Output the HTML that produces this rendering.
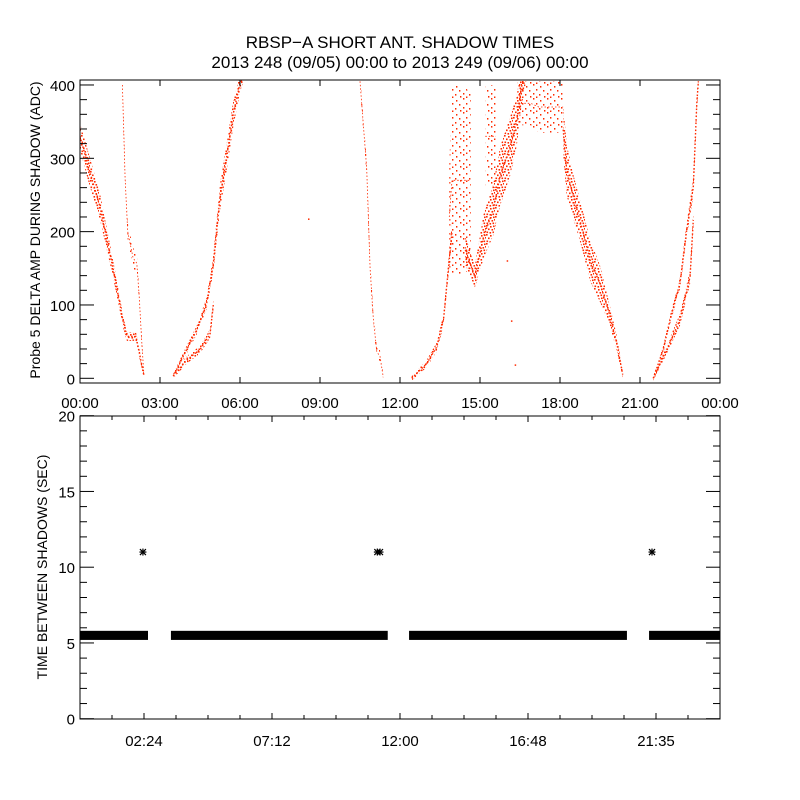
<!DOCTYPE html>
<html><head><meta charset="utf-8"><style>
body{margin:0;background:#fff;}
svg{display:block;font-family:"Liberation Sans",sans-serif;}
text{fill:#000;}
</style></head><body>
<svg id="chart" width="800" height="800" viewBox="0 0 800 800">
<defs>
<pattern id="dense" width="9" height="9" patternUnits="userSpaceOnUse">
<rect x="0" y="0" width="1.6" height="1.6" fill="#ff2a00"/><rect x="4" y="1" width="1.6" height="1.6" fill="#ff2a00"/><rect x="7" y="0.5" width="1.6" height="1.6" fill="#ff2a00"/>
<rect x="2" y="3.5" width="1.6" height="1.6" fill="#ff2a00"/><rect x="5.5" y="4" width="1.6" height="1.6" fill="#ff2a00"/><rect x="8" y="3" width="1" height="1.6" fill="#ff2a00"/>
<rect x="0.5" y="6.5" width="1.6" height="1.6" fill="#ff2a00"/><rect x="3.5" y="7" width="1.6" height="1.6" fill="#ff2a00"/><rect x="6.5" y="6.5" width="1.6" height="1.6" fill="#ff2a00"/>
</pattern>
<pattern id="sparse" width="14" height="14" patternUnits="userSpaceOnUse">
<rect x="1" y="0" width="1.4" height="1.6" fill="#ff2a00"/><rect x="8" y="2" width="1.4" height="1.6" fill="#ff2a00"/><rect x="4" y="5" width="1.4" height="1.6" fill="#ff2a00"/>
<rect x="11" y="6" width="1.4" height="1.6" fill="#ff2a00"/><rect x="1" y="9" width="1.4" height="1.6" fill="#ff2a00"/><rect x="7" y="10" width="1.4" height="1.6" fill="#ff2a00"/>
<rect x="12" y="12" width="1.4" height="1.6" fill="#ff2a00"/><rect x="4" y="12.5" width="1.4" height="1.6" fill="#ff2a00"/>
</pattern>
<clipPath id="clipTop"><rect x="80" y="80" width="640" height="303"/></clipPath>
</defs>
<rect width="800" height="800" fill="#fff"/>
<text x="400" y="48" font-size="17" text-anchor="middle">RBSP−A SHORT ANT. SHADOW TIMES</text>
<text x="400" y="68" font-size="17" text-anchor="middle">2013 248 (09/05) 00:00 to 2013 249 (09/06) 00:00</text>
<g id="topPanel"></g>
<g id="botPanel"></g>
<text transform="translate(40,230) rotate(-90)" font-size="14" text-anchor="middle">Probe 5 DELTA AMP DURING SHADOW (ADC)</text>
<text transform="translate(47,567) rotate(-90)" font-size="14" text-anchor="middle">TIME BETWEEN SHADOWS (SEC)</text>
</svg>
<script>
// ---- top panel data (hours, ADC value, vertical spread) ----
const trackNames = ["desc-a","desc-b","rise-c-low","rise-c-up","desc-d","rise-e","col-e","v-trough","col-sparse","peak","desc-f","rise-g-low","rise-g-up"];
const trackDensity = ["dense","sparse","dense","dense","sparse","dense","sparse","dense","sparse","sparse","dense","dense","dense"];
const trackHours = [
 [0,0.3,0.75,1.25,1.63,1.76,2.1,2.25,2.4],
 [1.59,1.69,1.79,1.99,2.13,2.22,2.31,2.4],
 [3.5,4.0,4.5,4.88,5.0],
 [3.5,3.86,4.38,4.75,5.0,5.25,5.5,5.75,6.0,6.1],
 [10.5,10.75,10.88,11.0,11.13,11.25,11.37],
 [12.44,13.0,13.38,13.63,13.81,13.95],
 [13.85,13.95,14.3,14.65],
 [14.45,14.81,15.13,15.5,15.75,16.13,16.38,16.56,16.7],
 [15.2,15.6],
 [16.4,16.9,17.2,18.1],
 [18.12,18.25,18.5,18.81,19.13,19.5,19.81,20.13,20.35],
 [21.5,22.0,22.5,22.88,23.0],
 [21.5,21.87,22.13,22.5,22.75,23.0,23.13,23.19]
];
const trackValues = [
 [330,290,234,148,75,57,57,30,3],
 [400,273,200,164,157,112,53,3],
 [3,25,39,61,100],
 [3,29,66,103,156,247,302,361,402,408],
 [405,286,150,82,36,30,2],
 [0,20,43,80,148,200],
 [220,270,270,270],
 [175,139,193,230,275,316,352,398,405],
 [330,330],
 [375,375,370,370],
 [339,284,248,207,161,129,93,48,5],
 [0,39,80,139,216],
 [0,39,80,130,202,261,375,405]
];
const trackSpread = [
 [18,20,18,12,8,6,6,6,3],
 [6,8,12,14,12,8,6,3],
 [3,5,5,6,8],
 [3,5,6,8,12,18,18,18,12,6],
 [10,12,14,10,10,8,3],
 [3,5,6,8,10,14],
 [70,130,130,120],
 [20,15,30,35,40,40,35,25,10],
 [70,70],
 [30,30,35,35],
 [35,35,30,28,28,25,15,10,5],
 [3,6,8,10,12],
 [3,5,6,8,10,12,12,6]
];
const strayHours = [8.55,16.0,16.16,16.3];
const strayValues = [218,161,79,19];
const topYTicks = [0,100,200,300,400];
const topXLabels = ["00:00","03:00","06:00","09:00","12:00","15:00","18:00","21:00","00:00"];
// ---- bottom panel data ----
const segStart = [0,3.41,12.34,21.34];
const segEnd = [2.55,11.54,20.51,24];
const segValue = [5.5,5.5,5.5,5.5];
const outlierHours = [2.36,11.15,11.25,21.45];
const outlierValues = [11,11,11,11];
const botYTicks = [0,5,10,15,20];
const botXLabelHours = [2.4,7.2,12,16.8,21.6];
const botXLabels = ["02:24","07:12","12:00","16:48","21:35"];

const NS="http://www.w3.org/2000/svg";
function mk(tag,attrs,parent){const e=document.createElementNS(NS,tag);for(const k in attrs)e.setAttribute(k,attrs[k]);parent.appendChild(e);return e;}
const X=h=>80+h*640/24;
const YT=v=>378.3-v*0.7333;
const YB=v=>718.7-v*15.15;
const topG=document.getElementById('topPanel'), botG=document.getElementById('botPanel');

// top bands
const tg=mk('g',{'clip-path':'url(#clipTop)'},topG);


for(let i=0;i<trackHours.length;i++){
  const t=trackHours[i],v=trackValues[i],w=trackSpread[i];
  const up=t.map((h,j)=>X(h).toFixed(1)+','+YT(v[j]+w[j]).toFixed(1));
  const lo=t.map((h,j)=>X(h).toFixed(1)+','+YT(v[j]-w[j]).toFixed(1)).reverse();
  const p=mk('polygon',{points:up.concat(lo).join(' '),fill:'url(#'+trackDensity[i]+')'},tg);
  
  
  const l=mk('polyline',{points:t.map((h,j)=>X(h).toFixed(1)+','+YT(v[j]).toFixed(1)).join(' '),fill:'none',stroke:'#ff2a00','stroke-width':trackDensity[i]==='dense'?1.4:0.8,'stroke-dasharray':'1.5 2'},tg);
  
  
}
for(let i=0;i<strayHours.length;i++){
  const r=mk('rect',{x:X(strayHours[i]),y:YT(strayValues[i]),width:1.5,height:1.5,fill:'#ff2a00'},tg);
  
  
}
// top axes
const tf=mk('rect',{x:80,y:80,width:640,height:303,fill:'none',stroke:'#000','stroke-width':1},topG);


for(let v=0;v<=400;v+=20){
  const len=v%100===0?14:7;const y=YT(v);
  mk('line',{x1:80,y1:y,x2:80+len,y2:y,stroke:'#000'},topG);
  mk('line',{x1:720,y1:y,x2:720-len,y2:y,stroke:'#000'},topG);
}
topYTicks.forEach(v=>{const t=mk('text',{x:75,y:YT(v)+6,'font-size':15,'text-anchor':'end'},topG);t.textContent=v;
  
  });
topXLabels.forEach((s,i)=>{const x=X(i*3);
  mk('line',{x1:x,y1:383,x2:x,y2:377,stroke:'#000'},topG);
  mk('line',{x1:x,y1:80,x2:x,y2:86,stroke:'#000'},topG);
  const t=mk('text',{x:x,y:408,'font-size':15,'text-anchor':'middle'},topG);t.textContent=s;
  
  });

// bottom bars
for(let i=0;i<segStart.length;i++){
  const r=mk('rect',{x:X(segStart[i]),y:YB(segValue[i]+0.3),width:X(segEnd[i])-X(segStart[i]),height:0.6*15.15,fill:'#000'},botG);
  
  
}
for(let i=0;i<outlierHours.length;i++){
  const cx=X(outlierHours[i]),cy=YB(outlierValues[i]);
  const g=mk('g',{stroke:'#000','stroke-width':1.2},botG);
  
  
  mk('line',{x1:cx-3.5,y1:cy,x2:cx+3.5,y2:cy},g);
  mk('line',{x1:cx,y1:cy-3.5,x2:cx,y2:cy+3.5},g);
  mk('line',{x1:cx-3,y1:cy-3,x2:cx+3,y2:cy+3},g);
  mk('line',{x1:cx-3,y1:cy+3,x2:cx+3,y2:cy-3},g);
}
const bf=mk('rect',{x:80,y:416,width:640,height:303,fill:'none',stroke:'#000','stroke-width':1},botG);


for(let v=0;v<=20;v++){
  const len=v%5===0?14:7;const y=YB(v);
  mk('line',{x1:80,y1:y,x2:80+len,y2:y,stroke:'#000'},botG);
  mk('line',{x1:720,y1:y,x2:720-len,y2:y,stroke:'#000'},botG);
}
botYTicks.forEach(v=>{const t=mk('text',{x:75,y:YB(v)+6,'font-size':15,'text-anchor':'end'},botG);t.textContent=v;
  
  });
for(let k=1;k<20;k++){const x=X(k*1.2);const len=(k%4===2)?6:4;
  mk('line',{x1:x,y1:719,x2:x,y2:719-len,stroke:'#000'},botG);
  mk('line',{x1:x,y1:416,x2:x,y2:416+len,stroke:'#000'},botG);}
botXLabels.forEach((s,i)=>{const t=mk('text',{x:X(botXLabelHours[i]),y:746,'font-size':15,'text-anchor':'middle'},botG);t.textContent=s;
  
  });
</script>
</body></html>
